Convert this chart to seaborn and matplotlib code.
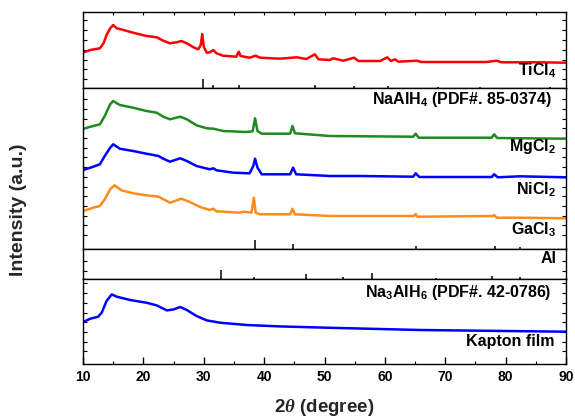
import matplotlib
matplotlib.use("Agg")
import matplotlib.pyplot as plt
from matplotlib.ticker import MultipleLocator, FixedLocator
import numpy as np
import seaborn as sns

# ---- XRD patterns (2theta in degrees, intensity in a.u.) ----
ticl4_2theta = [10.0, 11.2, 12.8, 13.4, 13.9, 14.5, 15.0, 15.6, 16.7, 18.3, 20.5, 22.2, 23.3, 24.4,
                25.5, 26.3, 27.2, 28.3, 29.1, 29.5, 29.75, 30.0, 30.5, 31.0, 31.6, 32.1, 33.2, 35.4,
                35.8, 36.1, 37.6, 38.6, 39.3, 42.6, 45.4, 47.0, 48.4, 49.0, 50.9, 51.4, 53.1, 54.9,
                55.6, 59.2, 60.4, 61.0, 61.7, 62.2, 65.3, 66.0, 71.3, 76.8, 78.5, 79.3, 85.1, 90.0]
ticl4_int = [35.6, 38.3, 40, 45, 53.3, 60, 63.3, 60, 58.3, 55.6, 52.3, 51, 47.6, 45,
             46, 47.3, 45, 41, 39, 43.3, 54.3, 41.6, 35.6, 36, 38.3, 35, 32.6, 31.6,
             36.6, 32.3, 30.6, 32.6, 30.6, 29.6, 31, 29.3, 34, 29, 28.3, 30, 27.6, 30.6,
             27.3, 27.3, 31, 27.3, 29, 26.6, 27.6, 26.3, 26.3, 26.3, 27.6, 26, 26, 25.6]

mgcl2_2theta = [10.05, 11.7, 12.8, 13.6, 14.5, 15.0, 16.1, 18.3, 20.5, 22.2, 23.3, 24.4, 26.1, 27.2,
                28.8, 30.5, 31.6, 33.2, 37.1, 38.1, 38.5, 38.9, 39.6, 44.3, 44.7, 45.1, 50.9, 64.7,
                65.1, 65.6, 77.7, 78.1, 78.6, 90.0]
mgcl2_int = [40.6, 43.3, 45, 53.3, 65, 68.3, 64.3, 61.6, 58.3, 56.6, 52.6, 50, 52.6, 50,
             44, 41, 40.6, 38.3, 37.3, 38, 51, 38.3, 35.6, 35.6, 43.3, 36, 33.3, 32.6,
             35.6, 31.6, 31.6, 35, 31.3, 30.6]

nicl2_2theta = [10.05, 11.7, 12.8, 13.6, 14.5, 15.0, 16.1, 18.3, 20.5, 22.5, 23.3, 24.4, 26.1, 27.2,
                28.8, 31.0, 31.6, 32.1, 34.9, 37.6, 38.2, 38.5, 38.9, 39.6, 44.3, 44.8, 45.3, 50.9,
                55.9, 64.7, 65.1, 65.7, 77.7, 78.1, 78.7, 82.4, 90.0]
nicl2_int = [39.3, 42.6, 45, 53.3, 61.6, 65, 60.6, 58.3, 55.6, 53.3, 50.6, 47.6, 51, 48.3,
             43.3, 40, 41, 39, 36.6, 36, 43.3, 50.6, 41.6, 35, 35, 41.6, 35, 33.3,
             33.3, 32.6, 36, 32.3, 32.3, 35, 32, 33, 32]

gacl3_2theta = [10.05, 11.7, 12.8, 13.6, 14.5, 15.2, 16.4, 18.3, 20.5, 22.5, 24.4, 26.3, 27.7, 29.4,
                31.0, 31.6, 32.1, 36.0, 36.6, 37.9, 38.3, 38.6, 39.3, 44.3, 44.7, 45.1, 50.9, 64.8,
                65.1, 65.4, 77.9, 78.1, 78.5, 82.4, 90.0]
gacl3_int = [38.3, 41.6, 43.3, 50, 60, 64, 59, 56, 54, 52.6, 46.6, 50.6, 47.3, 42.3,
             39.3, 40.6, 38, 36.6, 37.6, 36.6, 51.6, 36.6, 35, 35, 40.6, 35, 33.3, 33.3,
             35.3, 32.6, 33.3, 34.3, 31.6, 31.6, 31]

kapton_2theta = [10.05, 11.2, 12.5, 13.1, 13.9, 14.75, 15.6, 17.8, 20.5, 22.2, 23.9, 25.0, 26.1,
                 27.2, 28.8, 30.5, 32.7, 37.1, 42.6, 50.3, 65.8, 90.0]
kapton_int = [42, 45.3, 47.3, 51.3, 63, 69.6, 67.3, 64, 61.3, 58.6, 53.6, 54.6, 57,
              54, 48, 43.6, 41.3, 39, 37.6, 36.3, 34, 32.3]

# ---- Reference patterns (peak position, relative intensity %) ----
naalh4_pos = [29.8, 31.6, 35.8, 48.4, 54.9, 60.5, 68.8, 75.7, 87.3]
naalh4_rel = [100, 36, 36, 36, 28, 28, 15, 15, 15]
al_pos = [38.5, 44.7, 65.1, 78.2, 82.4]
al_rel = [100, 55, 30, 35, 20]
na3alh6_pos = [32.8, 38.4, 47.0, 53.0, 57.9, 68.4, 77.8, 82.4]
na3alh6_rel = [100, 25, 55, 25, 70, 18, 38, 22]

sns.set_theme(style="ticks")
plt.rcParams.update({
    "font.family": ["Liberation Sans", "DejaVu Sans"],
    "font.weight": "bold",
    "mathtext.fontset": "custom",
    "mathtext.rm": "Liberation Sans:bold",
    "mathtext.bf": "Liberation Sans:bold",
    "mathtext.it": "Liberation Serif:italic",
    "mathtext.default": "rm",
    "axes.linewidth": 1.0,
    "axes.edgecolor": "black",
    "xtick.color": "black",
    "ytick.color": "black",
})

W, H = 575, 417
fig = plt.figure(figsize=(W / 100, H / 100), dpi=100)
gs = fig.add_gridspec(4, 1, height_ratios=[76, 161, 30, 84.7], hspace=0,
                      left=83 / W, right=566 / W, top=1 - 12.3 / H, bottom=1 - 364 / H)
ax_ti, ax_mid, ax_al, ax_kap = [fig.add_subplot(gs[i]) for i in range(4)]

lw = 1.8
stick_len = 9.5
stick_kw = dict(color="black", linewidth=1.1)
label_kw = dict(ha="right", va="baseline", fontsize=11.5, fontweight="bold", color="black")

# Top panel: TiCl4 with NaAlH4 reference sticks
sns.lineplot(x=ticl4_2theta, y=ticl4_int, ax=ax_ti, color="#ff0000", linewidth=lw,
             sort=False, estimator=None)
ax_ti.vlines(naalh4_pos, 0, np.array(naalh4_rel) / 100 * stick_len, **stick_kw)
ax_ti.set_ylim(0, 76)
ax_ti.text(88.5, 13.3, r"TiCl$_4$", **label_kw)

# Middle panel: stacked MgCl2 / NiCl2 / GaCl3 with Al reference sticks
offsets = {"MgCl2": 80, "NiCl2": 40, "GaCl3": 0}
sns.lineplot(x=mgcl2_2theta, y=np.array(mgcl2_int) + offsets["MgCl2"], ax=ax_mid,
             color="#1f8a1f", linewidth=lw, sort=False, estimator=None)
sns.lineplot(x=nicl2_2theta, y=np.array(nicl2_int) + offsets["NiCl2"], ax=ax_mid,
             color="#0000ff", linewidth=lw, sort=False, estimator=None)
sns.lineplot(x=gacl3_2theta, y=np.array(gacl3_int) + offsets["GaCl3"], ax=ax_mid,
             color="#ff8c1a", linewidth=lw, sort=False, estimator=None)
ax_mid.vlines(al_pos, 0, np.array(al_rel) / 100 * stick_len, **stick_kw)
ax_mid.set_ylim(0, 161)
ax_mid.text(87.6, 145, r"NaAlH$_4$ (PDF#. 85-0374)", **label_kw)
ax_mid.text(88.4, 98.3, r"MgCl$_2$", **label_kw)
ax_mid.text(88.4, 55, r"NiCl$_2$", **label_kw)
ax_mid.text(88.4, 15, r"GaCl$_3$", **label_kw)

# Thin strip: Na3AlH6 reference sticks
ax_al.vlines(na3alh6_pos, 0, np.array(na3alh6_rel) / 100 * stick_len, **stick_kw)
ax_al.set_ylim(0, 30)
ax_al.text(88.4, 16.6, "Al", **label_kw)

# Bottom panel: Kapton film background
sns.lineplot(x=kapton_2theta, y=kapton_int, ax=ax_kap, color="#0000ff", linewidth=lw,
             sort=False, estimator=None)
ax_kap.set_ylim(0, 84.7)
ax_kap.text(87.6, 67.3, r"Na$_3$AlH$_6$ (PDF#. 42-0786)", **label_kw)
ax_kap.text(88.1, 18, "Kapton film", **label_kw)

ytick_sets = {
    ax_ti: np.arange(9, 76, 9.85),
    ax_mid: np.arange(14.3, 155, 9.69),
    ax_al: [8, 18],
    ax_kap: np.arange(12.7, 84, 9.7),
}
for ax in (ax_ti, ax_mid, ax_al, ax_kap):
    ax.set_xlim(10, 90)
    ax.set_xlabel("")
    ax.set_ylabel("")
    ax.yaxis.set_major_locator(FixedLocator(ytick_sets[ax]))
    ax.tick_params(axis="y", which="both", direction="in", left=True, right=True,
                   labelleft=False, labelright=False, length=3, width=0.8)
    for sp in ax.spines.values():
        sp.set_visible(True)
        sp.set_color("black")
        sp.set_linewidth(1.0)
    if ax is not ax_kap:
        ax.tick_params(axis="x", which="both", bottom=False, labelbottom=False)

# Top panel shows 5-degree ticks along its upper edge
ax_ti.xaxis.set_major_locator(MultipleLocator(5))
ax_ti.tick_params(axis="x", which="major", top=True, direction="in", length=2.5, width=0.8)
for ax in (ax_mid, ax_al):
    ax.tick_params(axis="x", which="both", top=False)

# Bottom axis
ax_kap.xaxis.set_major_locator(MultipleLocator(10))
ax_kap.xaxis.set_minor_locator(MultipleLocator(5))
ax_kap.tick_params(axis="x", which="major", direction="in", top=False, length=5, width=1.0,
                   labelsize=10, pad=4)
ax_kap.tick_params(axis="x", which="minor", direction="in", top=False, length=2.5, width=0.8)
for lab in ax_kap.get_xticklabels():
    lab.set_fontweight("bold")

fig.text(324.5 / W, 1 - 407 / H, r"2$\mathit{\theta}$ (degree)", ha="center", va="center",
         fontsize=13.5, fontweight="bold")
fig.text(19 / W, 1 - 210 / H, "Intensity (a.u.)", rotation=90, ha="center", va="center",
         fontsize=14, fontweight="bold")

fig.savefig("out.png", dpi=100)
